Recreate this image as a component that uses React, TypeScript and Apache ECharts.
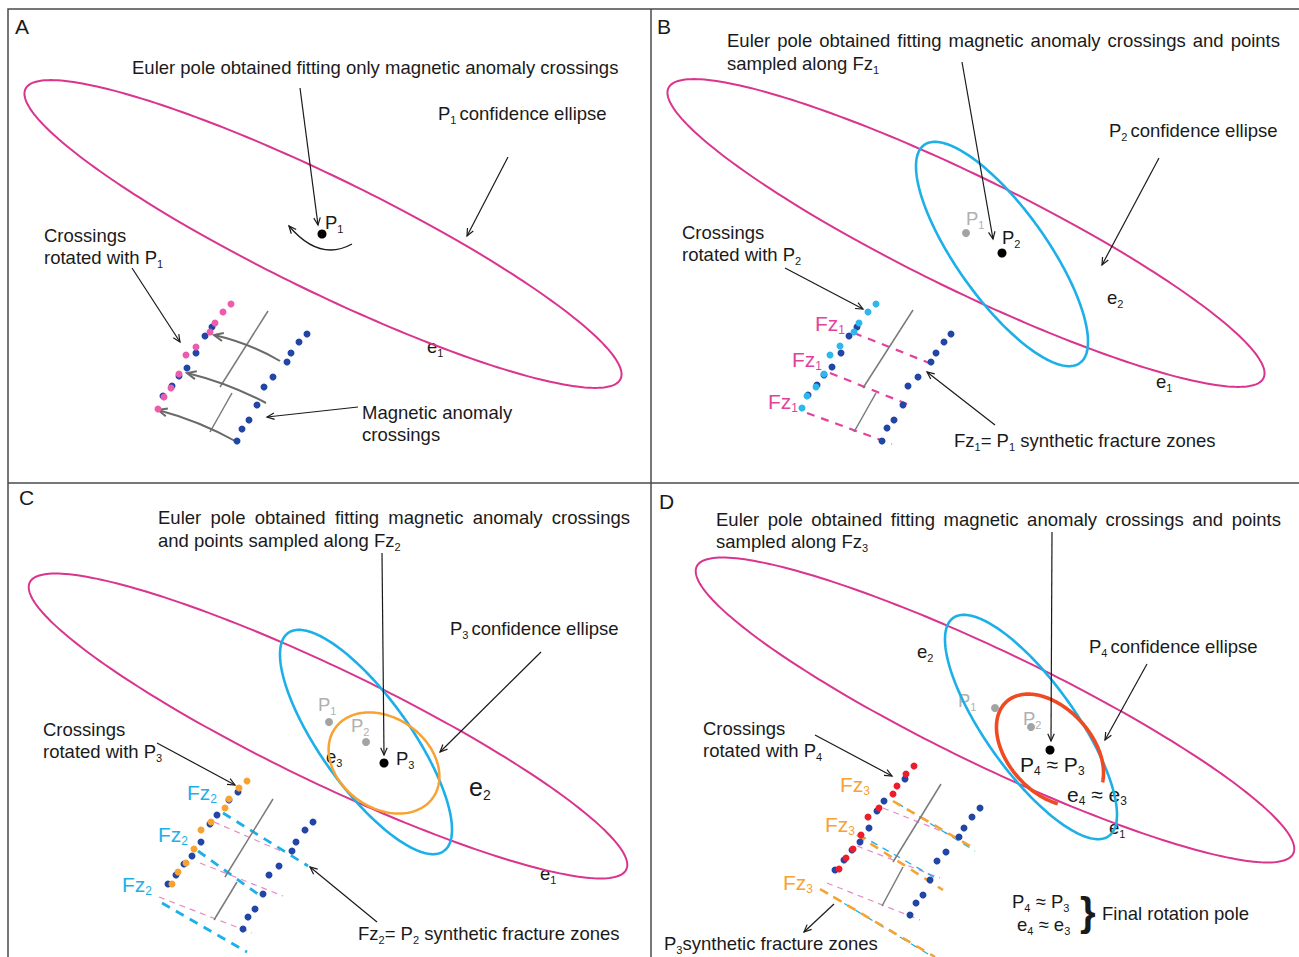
import React, { useEffect, useRef } from "react";
import * as echarts from "echarts";

const W = 1299;
const H = 957;
const FONT = '"Liberation Sans", Arial, Helvetica, sans-serif';

const INK = "#1a1a1a";
const GRAY_TXT = "#b0b0b0";
const GRAY_DOT = "#a3a3a3";
const PINK = "#d9358f";
const PINK_TXT = "#e2429d";
const PINK_LIGHT = "#e48cc4";
const CYAN = "#1db0e8";
const CYAN_DOT = "#2cb8ee";
const NAVY = "#2246a5";
const ORANGE = "#f7a232";
const RED_DOT = "#ea1f2b";
const RED_ARC = "#f04a22";
const ROSE_DOT = "#ec5cab";

// Confidence ellipses: [cx, cy, semi-major, semi-minor, tilt (deg), start (deg), end (deg)]
const e1Ellipses = [
  [323, 234, 331, 57, 26, 0, 360],
  [966, 233, 331, 57, 26, 0, 360],
  [328, 726, 331, 57, 25.7, 0, 360],
  [995, 710, 331, 57, 25.7, 0, 360],
];
const e2Ellipses = [
  [1002, 254, 134, 45, 54.5, 0, 360],
  [366, 742, 134, 45, 54.5, 0, 360],
  [1031, 727, 134, 45, 54.5, 0, 360],
];
const e3Ellipses = [[384, 763, 60, 45, 35.5, 0, 360]];
const e4Arcs = [[1050, 750, 65, 42, 48, 46, 335.5]];

// Magnetic anomaly crossings (original positions and their counterparts after rotation)
const crossings = [
  [307, 334], [299, 342], [291, 353], [287, 362], [273, 377], [264, 387], [257, 405], [249, 420], [242, 429], [237, 441],
  [212, 327], [205, 336], [196, 353], [187, 368], [179, 376], [172, 386], [163, 396],
  [951, 334], [944, 342], [936, 353], [931, 362], [918, 377], [908, 386], [903, 405], [894, 420], [887, 428], [882, 441],
  [857, 327], [849, 336], [841, 353], [832, 367], [824, 375], [817, 385], [808, 395],
  [313, 822], [305, 830], [296, 842], [292, 851], [279, 866], [269, 875], [263, 894], [255, 909], [248, 917], [243, 929],
  [238, 792], [229, 800], [217, 815], [210, 824], [201, 842], [192, 856], [184, 864], [176, 875], [168, 884],
  [980, 808], [972, 817], [964, 828], [959, 837], [946, 852], [937, 861], [930, 880], [923, 895], [916, 903], [910, 915],
  [905, 779], [884, 801], [877, 811], [869, 828], [860, 842], [852, 850], [844, 860], [835, 870],
];
const rotatedP1 = [[231, 304], [223, 312], [215, 323], [210, 332], [196, 347], [186, 355], [179, 374], [171, 388], [164, 397], [158, 409]];
const rotatedP2 = [[876, 304], [868, 312], [859, 323], [854, 332], [840, 346], [830, 355], [824, 374], [816, 387], [807, 396], [802, 408]];
const rotatedP3 = [[247, 781], [239, 788], [229, 799], [225, 808], [211, 822], [201, 830], [194, 849], [186, 863], [178, 872], [172, 884]];
const rotatedP4 = [[914, 766], [906, 774], [897, 786], [893, 794], [879, 808], [868, 817], [861, 835], [853, 849], [846, 858], [839, 869]];

// Euler poles
const currentPoles = [[322, 234], [1002, 253], [384, 763], [1050, 750]];
const earlierPoles = [[966, 233], [329, 722], [366, 742], [995, 708], [1031, 727]];

// Synthetic fracture zones: [x1, y1, x2, y2]
const fz1Lines = [[854, 333, 937, 366], [830, 373, 912, 406], [807, 413, 892, 444]];
const fz1Faint = [[214, 822, 283, 852], [200, 863, 283, 896], [159, 897, 252, 933], [883, 808, 964, 840], [857, 846, 940, 878], [827, 883, 920, 920]];
const fz2Lines = [[223, 813, 308, 866], [198, 851, 262, 897], [162, 903, 247, 952]];
const fz2Faint = [[897, 803, 975, 851], [860, 835, 939, 880], [822, 890, 938, 960]];
const fz3Lines = [[893, 801, 970, 846], [857, 835, 943, 890], [820, 889, 935, 957]];

// Ridge segments
const ridges = [
  [268, 311, 220, 387], [232, 393, 210, 432],
  [913, 310, 863, 388], [876, 393, 854, 432],
  [273, 799, 225, 877], [237, 882, 214, 920],
  [941, 784, 893, 862], [903, 867, 882, 906],
];

// Rotation paths of the crossings: [x1, y1, ctrlX, ctrlY, x2, y2]
const rotationPaths = [
  [280, 361, 249, 343, 214, 335],
  [266, 403, 228, 383, 187, 373],
  [237, 442, 199.5, 421, 158, 410],
];
const poleSpin = [[352, 244, 319.5, 262, 289, 226]];

// Leader arrows: [x1, y1, x2, y2]
const leaders = [
  [300, 88, 318, 225], [508, 157, 467, 236], [132, 268, 180, 342], [358, 407, 267, 417],
  [962, 62, 993, 239], [1159, 158, 1102, 265], [785, 268, 863, 309], [995, 425, 927, 372],
  [382, 553, 384, 755], [541, 652, 440, 752], [157, 743, 235, 785], [377, 922, 310, 867],
  [1052, 532, 1051, 741], [1147, 664, 1105, 740], [815, 735, 892, 776], [834, 904, 804, 932],
];

const RICH: any = {
  n: { fontFamily: FONT, fontSize: 18.5, lineHeight: 24, fill: INK },
  s: { fontFamily: FONT, fontSize: 11, lineHeight: 10, verticalAlign: "bottom", fill: INK },
  g: { fontFamily: FONT, fontSize: 18.5, lineHeight: 24, fill: GRAY_TXT },
  gs: { fontFamily: FONT, fontSize: 11, lineHeight: 10, verticalAlign: "bottom", fill: GRAY_TXT },
  p: { fontFamily: FONT, fontSize: 21, lineHeight: 26, fill: PINK_TXT },
  ps: { fontFamily: FONT, fontSize: 12, lineHeight: 11, verticalAlign: "bottom", fill: PINK_TXT },
  c: { fontFamily: FONT, fontSize: 21, lineHeight: 26, fill: CYAN },
  cs: { fontFamily: FONT, fontSize: 12, lineHeight: 11, verticalAlign: "bottom", fill: CYAN },
  o: { fontFamily: FONT, fontSize: 21, lineHeight: 26, fill: ORANGE },
  os: { fontFamily: FONT, fontSize: 12, lineHeight: 11, verticalAlign: "bottom", fill: ORANGE },
  b: { fontFamily: FONT, fontSize: 25, lineHeight: 30, fill: INK },
  bs: { fontFamily: FONT, fontSize: 14, lineHeight: 12, verticalAlign: "bottom", fill: INK },
  m: { fontFamily: FONT, fontSize: 21, lineHeight: 26, fill: INK },
  ms: { fontFamily: FONT, fontSize: 12, lineHeight: 10, verticalAlign: "bottom", fill: INK },
  L: { fontFamily: FONT, fontSize: 21, lineHeight: 26, fill: INK },
};

function label(x: number, y: number, text: string, extra: any = {}) {
  return {
    type: "text",
    x,
    y,
    silent: true,
    style: {
      text,
      rich: RICH,
      fontFamily: FONT,
      fontSize: 18.5,
      fill: INK,
      align: "left",
      verticalAlign: "middle",
      ...extra,
    },
  };
}

let measureCtx: CanvasRenderingContext2D | null = null;
function measure(text: string, size: number) {
  if (!measureCtx) measureCtx = document.createElement("canvas").getContext("2d");
  measureCtx!.font = `${size}px ${FONT}`;
  return measureCtx!.measureText(text).width;
}

// A fully justified line, laid out word by word
function justified(x: number, y: number, width: number, line: string) {
  const words = line.split(" ");
  const widths = words.map((w) => measure(w, 18.5));
  const total = widths.reduce((a, b) => a + b, 0);
  const gap = (width - total) / (words.length - 1);
  const out: any[] = [];
  let cx = x;
  words.forEach((w, i) => {
    out.push(label(cx, y, `{n|${w}}`));
    cx += widths[i] + gap;
  });
  return out;
}

function ellipseItem(color: string, width: number) {
  return (_p: any, api: any) => {
    const cx = api.value(0), cy = api.value(1), a = api.value(2), b = api.value(3);
    const th = (api.value(4) * Math.PI) / 180;
    const t0 = api.value(5), t1 = api.value(6);
    const pts: number[][] = [];
    const n = 240;
    for (let k = 0; k <= n; k++) {
      const t = ((t0 + ((t1 - t0) * k) / n) * Math.PI) / 180;
      const x = cx + a * Math.cos(t) * Math.cos(th) - b * Math.sin(t) * Math.sin(th);
      const y = cy + a * Math.cos(t) * Math.sin(th) + b * Math.sin(t) * Math.cos(th);
      pts.push(api.coord([x, y]));
    }
    return { type: "polyline", shape: { points: pts }, style: { stroke: color, lineWidth: width, fill: "none" } };
  };
}

function segItem(color: string, width: number, dash?: number[]) {
  return (_p: any, api: any) => {
    const p = api.coord([api.value(0), api.value(1)]);
    const q = api.coord([api.value(2), api.value(3)]);
    return {
      type: "line",
      shape: { x1: p[0], y1: p[1], x2: q[0], y2: q[1] },
      style: { stroke: color, lineWidth: width, lineDash: dash || null, fill: "none" },
    };
  };
}

function arrowItem(color: string, width: number, head: number) {
  return (_p: any, api: any) => {
    const s = api.coord([api.value(0), api.value(1)]);
    const c = api.coord([api.value(2), api.value(3)]);
    const e = api.coord([api.value(4), api.value(5)]);
    const ang = Math.atan2(e[1] - c[1], e[0] - c[0]);
    const spread = 0.42;
    const h1 = [e[0] - head * Math.cos(ang - spread), e[1] - head * Math.sin(ang - spread)];
    const h2 = [e[0] - head * Math.cos(ang + spread), e[1] - head * Math.sin(ang + spread)];
    return {
      type: "group",
      children: [
        {
          type: "bezierCurve",
          shape: { x1: s[0], y1: s[1], cpx1: c[0], cpy1: c[1], x2: e[0], y2: e[1] },
          style: { stroke: color, lineWidth: width, fill: "none" },
        },
        { type: "polyline", shape: { points: [h1, e, h2] }, style: { stroke: color, lineWidth: width, fill: "none" } },
      ],
    };
  };
}

function custom(data: number[][], renderItem: any, z = 2) {
  return { type: "custom", coordinateSystem: "cartesian2d", data, renderItem, silent: true, clip: false, z };
}

function dots(data: number[][], color: string, size: number, z = 5) {
  return { type: "scatter", data, symbolSize: size, itemStyle: { color, opacity: 1 }, silent: true, z };
}

function buildOption() {
  const straight = leaders.map(([x1, y1, x2, y2]) => [x1, y1, (x1 + x2) / 2, (y1 + y2) / 2, x2, y2]);
  const whiteBox = { backgroundColor: "#fff", padding: [0, 1] };

  const texts: any[] = [
    // panel A
    label(15, 26, "{L|A}"),
    label(132, 67, "{n|Euler pole obtained fitting only magnetic anomaly crossings}"),
    label(438, 113, "{n|P}{s|1 }{n|confidence ellipse}"),
    label(325, 222, "{n|P}{s|1}"),
    label(44, 235, "{n|Crossings}"),
    label(44, 257, "{n|rotated with P}{s|1}"),
    label(426, 346, "{n|e}{s|1}", whiteBox),
    label(362, 412, "{n|Magnetic anomaly}"),
    label(362, 434, "{n|crossings}"),
    // panel B
    label(657, 26, "{L|B}"),
    ...justified(727, 40, 553, "Euler pole obtained fitting magnetic anomaly crossings and points"),
    label(727, 63, "{n|sampled along Fz}{s|1}"),
    label(1109, 130, "{n|P}{s|2 }{n|confidence ellipse}"),
    label(966, 218, "{g|P}{gs|1}"),
    label(1002, 237, "{n|P}{s|2}"),
    label(682, 232, "{n|Crossings}"),
    label(682, 254, "{n|rotated with P}{s|2}"),
    label(1107, 297, "{n|e}{s|2}"),
    label(1155, 381, "{n|e}{s|1}", whiteBox),
    label(815, 323, "{p|Fz}{ps|1}"),
    label(792, 359, "{p|Fz}{ps|1}"),
    label(768, 401, "{p|Fz}{ps|1}"),
    label(954, 440, "{n|Fz}{s|1}{n|= P}{s|1}{n| synthetic fracture zones}"),
    // panel C
    label(19, 497, "{L|C}"),
    ...justified(158, 517, 472, "Euler pole obtained fitting magnetic anomaly crossings"),
    label(158, 540, "{n|and points sampled along Fz}{s|2}"),
    label(450, 628, "{n|P}{s|3 }{n|confidence ellipse}"),
    label(43, 729, "{n|Crossings}"),
    label(43, 751, "{n|rotated with P}{s|3}"),
    label(318, 704, "{g|P}{gs|1}"),
    label(351, 725, "{g|P}{gs|2}"),
    label(396, 758, "{n|P}{s|3}"),
    label(325, 756, "{n|e}{s|3}", whiteBox),
    label(469, 787, "{b|e}{bs|2}"),
    label(539, 873, "{n|e}{s|1}", whiteBox),
    label(187, 792, "{c|Fz}{cs|2}"),
    label(158, 834, "{c|Fz}{cs|2}"),
    label(122, 884, "{c|Fz}{cs|2}"),
    label(358, 933, "{n|Fz}{s|2}{n|= P}{s|2}{n| synthetic fracture zones}"),
    // panel D
    label(659, 501, "{L|D}"),
    ...justified(716, 519, 565, "Euler pole obtained fitting magnetic anomaly crossings and points"),
    label(716, 541, "{n|sampled along Fz}{s|3}"),
    label(1089, 646, "{n|P}{s|4 }{n|confidence ellipse}"),
    label(917, 651, "{n|e}{s|2}"),
    label(958, 700, "{g|P}{gs|1}"),
    label(1023, 718, "{g|P}{gs|2}"),
    label(1020, 764, "{m|P}{ms|4}{m| ≈ P}{ms|3}"),
    label(1066, 794, "{m|e}{ms|4}{m| ≈ e}{ms|3}", whiteBox),
    label(1108, 827, "{n|e}{s|1}", whiteBox),
    label(703, 728, "{n|Crossings}"),
    label(703, 750, "{n|rotated with P}{s|4}"),
    label(840, 784, "{o|Fz}{os|3}"),
    label(825, 824, "{o|Fz}{os|3}"),
    label(783, 882, "{o|Fz}{os|3}"),
    label(664, 943, "{n|P}{s|3}{n|synthetic fracture zones}"),
    label(1012, 901, "{n|P}{s|4}{n| ≈ P}{s|3}"),
    label(1017, 924, "{n|e}{s|4}{n| ≈ e}{s|3}"),
    {
      type: "text",
      x: 1080,
      y: 912,
      silent: true,
      style: { text: "}", fontFamily: FONT, fontSize: 40, fontWeight: "bold", fill: INK, align: "left", verticalAlign: "middle" },
    },
    label(1102, 913, "{n|Final rotation pole}"),
  ];

  const frame = [
    { type: "rect", silent: true, shape: { x: 8, y: 9, width: 1310, height: 970 }, style: { fill: "none", stroke: "#4a4a4a", lineWidth: 1.5 } },
    { type: "line", silent: true, shape: { x1: 651, y1: 9, x2: 651, y2: H + 5 }, style: { stroke: "#4a4a4a", lineWidth: 1.5 } },
    { type: "line", silent: true, shape: { x1: 8, y1: 483, x2: W + 5, y2: 483 }, style: { stroke: "#4a4a4a", lineWidth: 1.5 } },
  ];

  return {
    animation: false,
    backgroundColor: "#ffffff",
    grid: { left: 0, right: 0, top: 0, bottom: 0 },
    xAxis: { type: "value", min: 0, max: W, show: false },
    yAxis: { type: "value", min: 0, max: H, inverse: true, show: false },
    series: [
      custom(e1Ellipses, ellipseItem(PINK, 2)),
      custom(e2Ellipses, ellipseItem(CYAN, 2.6)),
      custom(e3Ellipses, ellipseItem(ORANGE, 2.5)),
      custom(e4Arcs, ellipseItem(RED_ARC, 3.6)),
      custom(fz1Faint, segItem(PINK_LIGHT, 1.2, [6, 5]), 3),
      custom(fz1Lines, segItem(PINK_TXT, 2.2, [8, 7]), 3),
      custom(fz2Faint, segItem(CYAN, 1.3, [7, 6]), 3),
      custom(fz2Lines, segItem(CYAN, 2.8, [9, 7]), 3),
      custom(fz3Lines, segItem(ORANGE, 2.6, [9, 7]), 3),
      custom(ridges, segItem("#7a7a7a", 1.5), 3),
      custom(rotationPaths, arrowItem("#6a6a6a", 2, 10), 4),
      custom(poleSpin, arrowItem(INK, 1.3, 8), 4),
      custom(straight, arrowItem(INK, 1.2, 8), 4),
      dots(crossings, NAVY, 7),
      dots(rotatedP1, ROSE_DOT, 7, 6),
      dots(rotatedP2, CYAN_DOT, 7, 6),
      dots(rotatedP3, ORANGE, 7, 6),
      dots(rotatedP4, RED_DOT, 7, 6),
      dots(earlierPoles, GRAY_DOT, 8, 7),
      dots(currentPoles, "#000000", 9, 7),
    ],
    graphic: [...frame, ...texts],
  };
}

export default function App() {
  const ref = useRef<HTMLDivElement>(null);
  useEffect(() => {
    if (!ref.current) return;
    const chart = echarts.init(ref.current, null, { renderer: "svg" });
    chart.setOption(buildOption() as any);
    return () => chart.dispose();
  }, []);
  return (
    <div
      ref={ref}
      style={{ position: "fixed", left: 0, top: 0, width: W, height: H, background: "#fff" }}
    />
  );
}
